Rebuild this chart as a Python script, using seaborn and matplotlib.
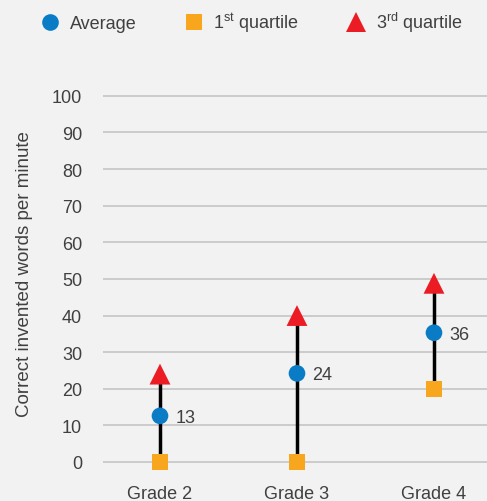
import matplotlib
matplotlib.use("Agg")
import matplotlib.pyplot as plt
import seaborn as sns
import pandas as pd
from matplotlib.lines import Line2D

grades = ["Grade 2", "Grade 3", "Grade 4"]
average = [12.6, 24.2, 35.3]
avg_labels = ["13", "24", "36"]
q1 = [0, 0, 20]
q3 = [24, 40, 48.8]
yticks = [0, 10, 20, 30, 40, 50, 60, 70, 80, 90, 100]

sns.set_theme(style="white")
plt.rcParams["font.family"] = ["Liberation Sans", "DejaVu Sans"]
plt.rcParams["mathtext.fontset"] = "custom"
plt.rcParams["mathtext.rm"] = "Liberation Sans"
plt.rcParams["mathtext.it"] = "Liberation Sans"

BG = "#f2f2f2"
TXT = "#404040"
C_AVG = "#0a7cc6"
C_Q1 = "#f9a61f"
C_Q3 = "#ec1c24"

df = pd.DataFrame({"grade": grades, "avg": average, "q1": q1, "q3": q3})

fig = plt.figure(figsize=(4.87, 5.02), dpi=100, facecolor=BG)
ax = fig.add_axes([103/487, 24/502, 384/487, 383/502])
ax.set_facecolor(BG)

for g, lo, hi in zip(grades, q1, q3):
    ax.plot([g, g], [lo, hi], color="black", lw=2.5, zorder=2, solid_capstyle="butt")

sns.scatterplot(data=df, x="grade", y="q1", marker="s", s=(11.5)**2, color=C_Q1,
                edgecolor="none", ax=ax, zorder=3)
sns.scatterplot(data=df, x="grade", y="q3", marker="^", s=(15)**2, color=C_Q3,
                edgecolor="none", ax=ax, zorder=3)
sns.scatterplot(data=df, x="grade", y="avg", marker="o", s=(12)**2, color=C_AVG,
                edgecolor="none", ax=ax, zorder=4)

for g, v, lab in zip(grades, average, avg_labels):
    ax.annotate(lab, (g, v), xytext=(11, -1), textcoords="offset points",
                ha="left", va="center", fontsize=13, color=TXT)

ax.set_xlim(-0.416, 2.387)
ax.set_ylim(-4.1, 100.5)
ax.set_yticks(yticks)
ax.set_yticklabels([str(t) for t in yticks])
ax.yaxis.grid(True, color="#c8c8c8", lw=1.3)
ax.set_axisbelow(True)
for s in ax.spines.values():
    s.set_visible(False)
ax.tick_params(axis="y", length=0, pad=15, labelsize=13, labelcolor=TXT)
ax.tick_params(axis="x", length=0, pad=6, labelsize=13, labelcolor=TXT)
ax.set_xlabel("")
ax.set_ylabel("Correct invented words per minute", fontsize=13.5, color=TXT)
ax.yaxis.set_label_coords(-0.183, 0.533)

handles = [
    Line2D([], [], marker="o", ls="none", color=C_AVG, markersize=12, markeredgewidth=0),
    Line2D([], [], marker="s", ls="none", color=C_Q1, markersize=11.5, markeredgewidth=0),
    Line2D([], [], marker="^", ls="none", color=C_Q3, markersize=15, markeredgewidth=0),
]
labels = ["Average", r"1$^{\mathrm{st}}$ quartile", r"3$^{\mathrm{rd}}$ quartile"]
leg = fig.legend(handles, labels, loc="center", bbox_to_anchor=(252/487, 1 - 23/502),
                 ncol=3, frameon=False, fontsize=13, handlelength=1.0,
                 handletextpad=0.6, columnspacing=2.65, labelcolor=TXT)

fig.savefig("out.png", dpi=100, facecolor=BG)
